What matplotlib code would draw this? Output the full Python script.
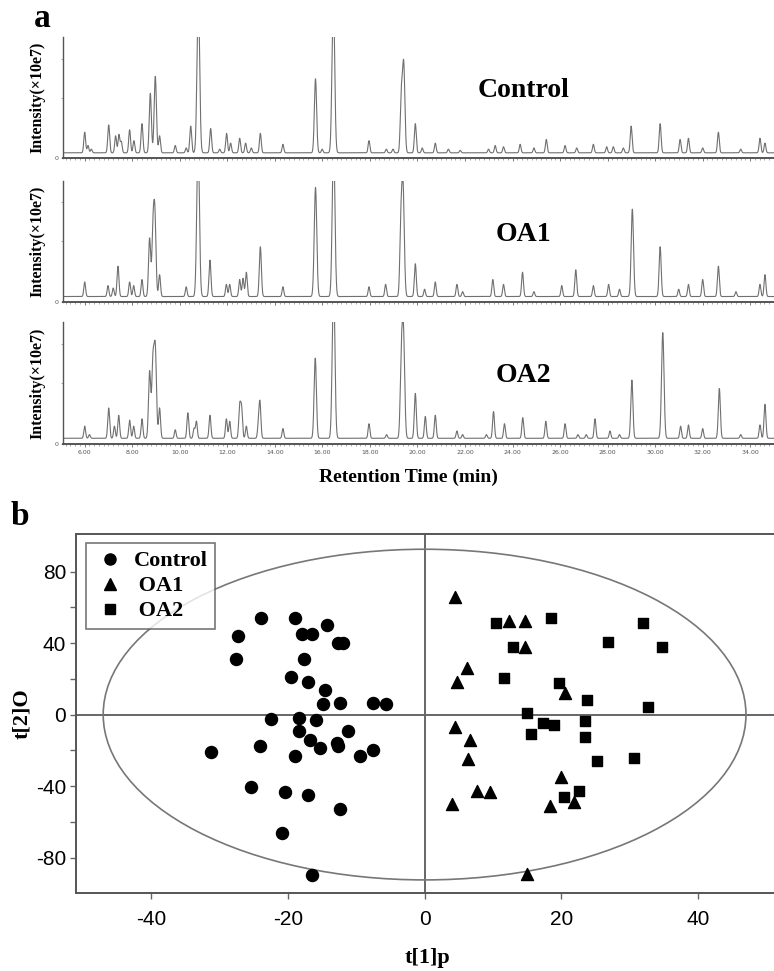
import numpy as np
import matplotlib
matplotlib.use("Agg")
import matplotlib.pyplot as plt
from matplotlib.patches import Ellipse
from matplotlib.lines import Line2D

plt.rcParams["axes.unicode_minus"] = False

# ---- panel a: chromatogram peaks (retention time in min, height above baseline, full scale = 1)
ctrl_rt = [6.00, 6.14, 6.28, 7.01, 7.30, 7.44, 7.54, 7.89, 8.07, 8.41, 8.76, 8.97, 9.15,
           9.81, 10.27, 10.46, 10.78, 11.30, 11.68, 11.97, 12.14, 12.52, 12.77, 13.01,
           13.39, 14.34, 15.71, 15.99, 16.46, 17.96, 18.69, 18.97, 19.32, 19.42, 19.91,
           20.20, 20.75, 21.30, 21.80, 22.99, 23.27, 23.62, 24.32, 24.90, 25.42, 26.21,
           26.70, 27.40, 27.96, 28.24, 28.66, 28.99, 30.21, 31.05, 31.40, 32.00, 32.66,
           33.60, 34.41, 34.62]
ctrl_h = [0.17, 0.06, 0.03, 0.23, 0.14, 0.15, 0.09, 0.19, 0.10, 0.24, 0.49, 0.63, 0.14,
          0.06, 0.04, 0.22, 1.30, 0.20, 0.03, 0.16, 0.08, 0.12, 0.08, 0.04,
          0.16, 0.07, 0.61, 0.03, 1.30, 0.10, 0.03, 0.03, 0.45, 0.73, 0.24,
          0.04, 0.08, 0.03, 0.02, 0.03, 0.06, 0.05, 0.07, 0.04, 0.11, 0.06,
          0.04, 0.07, 0.05, 0.05, 0.04, 0.22, 0.24, 0.11, 0.12, 0.04, 0.17,
          0.03, 0.12, 0.08]

oa1_rt = [6.00, 6.98, 7.20, 7.40, 7.89, 8.06, 8.41, 8.73, 8.87, 8.95, 9.15, 10.27, 10.77,
          11.27, 11.96, 12.10, 12.52, 12.66, 12.80, 13.39, 14.34, 15.71, 16.47, 17.96,
          18.66, 19.30, 19.39, 19.91, 20.30, 20.75, 21.66, 21.90, 23.17, 23.62, 24.42,
          24.90, 26.07, 26.66, 27.40, 28.04, 28.50, 29.04, 30.21, 30.99, 31.40, 32.00,
          32.66, 33.40, 34.41, 34.62]
oa1_h = [0.12, 0.09, 0.07, 0.25, 0.12, 0.09, 0.14, 0.48, 0.48, 0.66, 0.18, 0.08, 1.30,
         0.30, 0.10, 0.10, 0.14, 0.15, 0.20, 0.41, 0.08, 0.90, 1.30, 0.08,
         0.10, 0.50, 0.91, 0.27, 0.06, 0.12, 0.10, 0.04, 0.14, 0.10, 0.20,
         0.04, 0.09, 0.22, 0.09, 0.10, 0.06, 0.72, 0.41, 0.06, 0.10, 0.14,
         0.25, 0.04, 0.10, 0.18]

oa2_rt = [6.00, 6.20, 7.01, 7.25, 7.43, 7.89, 8.06, 8.41, 8.73, 8.87, 8.97, 9.15, 9.81,
          10.34, 10.60, 10.70, 11.27, 11.96, 12.10, 12.52, 12.60, 12.80, 13.30, 13.37,
          14.34, 15.70, 16.47, 17.96, 18.70, 19.32, 19.41, 19.91, 20.33, 20.75, 21.66,
          21.90, 22.90, 23.20, 23.66, 24.43, 25.40, 26.21, 26.75, 27.10, 27.47, 28.10,
          28.50, 29.02, 30.32, 31.07, 31.40, 32.00, 32.70, 33.60, 34.41, 34.62]
oa2_h = [0.10, 0.03, 0.25, 0.10, 0.19, 0.15, 0.10, 0.16, 0.55, 0.61, 0.72, 0.25, 0.07,
         0.21, 0.08, 0.14, 0.19, 0.16, 0.14, 0.26, 0.24, 0.10, 0.08, 0.30,
         0.08, 0.66, 1.30, 0.12, 0.03, 0.60, 0.85, 0.37, 0.18, 0.19, 0.06,
         0.03, 0.03, 0.22, 0.12, 0.17, 0.14, 0.12, 0.03, 0.03, 0.16, 0.06,
         0.03, 0.48, 0.87, 0.10, 0.11, 0.08, 0.41, 0.03, 0.11, 0.28]

trace_names = ["Control", "OA1", "OA2"]
time_ticks = [6, 8, 10, 12, 14, 16, 18, 20, 22, 24, 26, 28, 30, 32, 34]

# ---- panel b: score plot
ctrl_x = [-23.9, -18.9, -14.2, -27.3, -17.9, -16.4, -12.6, -11.9, -27.6, -17.7, -19.5,
          -17.0, -14.5, -14.9, -12.3, -7.5, -5.7, -22.4, -18.3, -15.9, -18.3, -16.8,
          -11.2, -15.3, -12.8, -12.7, -24.1, -31.2, -18.9, -9.4, -7.5, -25.4, -20.4,
          -17.1, -12.3, -20.8, -16.5]
ctrl_y = [54.2, 54.2, 50.1, 44.0, 44.9, 44.9, 39.9, 40.2, 30.9, 30.9, 21.1,
          18.3, 14.0, 6.0, 6.5, 6.5, 6.0, -2.5, -1.9, -3.2, -9.4, -14.0,
          -9.4, -18.7, -15.7, -17.8, -17.6, -20.8, -23.4, -22.9, -19.7, -40.3, -43.5,
          -44.8, -52.8, -66.0, -89.5]

oa1_x = [4.5, 12.4, 14.7, 14.7, 6.2, 4.7, 20.6, 4.5, 6.6, 6.4, 19.9, 7.7, 9.5,
         4.0, 18.3, 21.8, 15.0]
oa1_y = [66.0, 52.6, 52.6, 38.0, 26.2, 18.3, 11.8, -7.0, -14.0, -24.7, -35.0, -42.5,
         -43.5, -50.0, -50.9, -49.1, -89.0]

oa2_x = [10.5, 18.5, 32.0, 13.0, 26.8, 34.7, 11.6, 19.6, 23.8, 32.7, 15.0, 17.3, 18.9,
         23.5, 15.5, 23.4, 30.6, 25.2, 22.6, 20.4]
oa2_y = [51.1, 53.9, 51.1, 38.0, 40.4, 38.0, 20.2, 17.4, 8.0, 4.3, 0.9, -4.5, -5.6,
         -3.6, -11.1, -12.6, -24.1, -26.2, -42.9, -46.3]

ellipse_a = 47.0
ellipse_b = 92.5

serif = "Liberation Serif"
sans = "Liberation Sans"

fig = plt.figure(figsize=(7.74, 9.71), dpi=100)

# ---------------- panel a
t = np.linspace(5.1, 35.0, 8000)
base = 0.045
traces = [(ctrl_rt, ctrl_h), (oa1_rt, oa1_h), (oa2_rt, oa2_h)]
bottoms = [0.837, 0.689, 0.543]

for i, (rt, h) in enumerate(traces):
    ax = fig.add_axes([0.0818, bottoms[i], 0.9182, 0.125])
    y = np.full_like(t, base)
    for r, a in zip(rt, h):
        w = 0.035 + 0.02 * min(a, 1.0)
        y += a * np.exp(-0.5 * ((t - r) / w) ** 2)
    ax.plot(t, y, color="#707070", lw=0.8)
    ax.set_xlim(5.1, 35.0)
    ax.set_ylim(0, 1.0)
    for s in ["top", "right"]:
        ax.spines[s].set_visible(False)
    ax.spines["left"].set_color("#555555")
    ax.spines["left"].set_linewidth(1.0)
    ax.spines["bottom"].set_color("#555555")
    ax.spines["bottom"].set_linewidth(1.4)
    ax.set_xticks(time_ticks)
    ax.set_xticks(np.arange(5.2, 35.0, 0.2), minor=True)
    ax.tick_params(axis="x", which="major", length=2.5, width=0.6, color="#666666",
                   labelsize=4.5, labelcolor="#555555", pad=2)
    ax.tick_params(axis="x", which="minor", length=1.5, width=0.5, color="#888888")
    if i < 2:
        ax.set_xticklabels([])
    else:
        ax.set_xticklabels(["%.2f" % v for v in time_ticks])
    ax.set_yticks([0])
    ax.set_yticklabels(["0"])
    ax.set_yticks([0.5, 0.82], minor=True)
    ax.tick_params(axis="y", which="both", length=1.5, width=0.6, color="#999999",
                   labelsize=4.5, labelcolor="#555555", pad=2)
    ax.text(0.648, 0.56, trace_names[i], transform=ax.transAxes, ha="center",
            va="center", fontsize=20, fontweight="bold", family=serif)
    fig.text(0.049, bottoms[i] + 0.0625, "Intensity(\u00d710e7)", rotation=90,
             ha="center", va="center", fontsize=11.5, fontweight="bold", family=serif)

fig.text(0.528, 0.508, "Retention Time (min)", ha="center", va="center",
         fontsize=14, fontweight="bold", family=serif)
fig.text(0.054, 0.981, "a", ha="center", va="center", fontsize=24,
         fontweight="bold", family=serif)

# ---------------- panel b
axb = fig.add_axes([0.098, 0.080, 0.902, 0.370])
axb.axhline(0, color="#666666", lw=1.4, zorder=1)
axb.axvline(0, color="#666666", lw=1.4, zorder=1)
axb.add_patch(Ellipse((0, 0), 2 * ellipse_a, 2 * ellipse_b, fill=False,
                      edgecolor="#777777", lw=1.2, zorder=1))
axb.scatter(ctrl_x, ctrl_y, marker="o", s=75, color="black", zorder=3)
axb.scatter(oa1_x, oa1_y, marker="^", s=75, color="black", zorder=3)
axb.scatter(oa2_x, oa2_y, marker="s", s=52, color="black", zorder=3)
axb.set_xlim(-51, 51.1)
axb.set_ylim(-100, 101)
axb.spines["right"].set_visible(False)
for s in ["top", "left", "bottom"]:
    axb.spines[s].set_color("#555555")
    axb.spines[s].set_linewidth(1.4)
axb.set_xticks([-40, -20, 0, 20, 40])
axb.set_yticks([-80, -40, 0, 40, 80])
axb.set_yticks([-60, -20, 20, 60], minor=True)
axb.tick_params(axis="both", which="both", direction="out", length=4, width=1.0,
                color="#666666", labelsize=15)
axb.tick_params(axis="x", which="major", pad=8)
axb.tick_params(axis="y", which="major", pad=3)
for lab in axb.get_xticklabels() + axb.get_yticklabels():
    lab.set_family(sans)

handles = [Line2D([], [], ls="none", marker="o", color="black", markersize=8),
           Line2D([], [], ls="none", marker="^", color="black", markersize=8),
           Line2D([], [], ls="none", marker="s", color="black", markersize=6.5)]
leg = axb.legend(handles, ["Control", " OA1", " OA2"], loc="upper left",
                 bbox_to_anchor=(0.014, 0.975), frameon=True, fancybox=False,
                 prop={"family": serif, "weight": "bold", "size": 16},
                 handletextpad=0.3, labelspacing=0.2, borderpad=0.35,
                 handlelength=1.5, borderaxespad=0)
leg.get_frame().set_edgecolor("#555555")
leg.get_frame().set_linewidth(1.2)

fig.text(0.552, 0.013, "t[1]p", ha="center", va="center", fontsize=16,
         fontweight="bold", family=serif)
fig.text(0.028, 0.265, "t[2]O", ha="center", va="center", fontsize=16,
         fontweight="bold", family=serif, rotation=90)
fig.text(0.026, 0.468, "b", ha="center", va="center", fontsize=24,
         fontweight="bold", family=serif)

fig.savefig("out.png", dpi=100)
